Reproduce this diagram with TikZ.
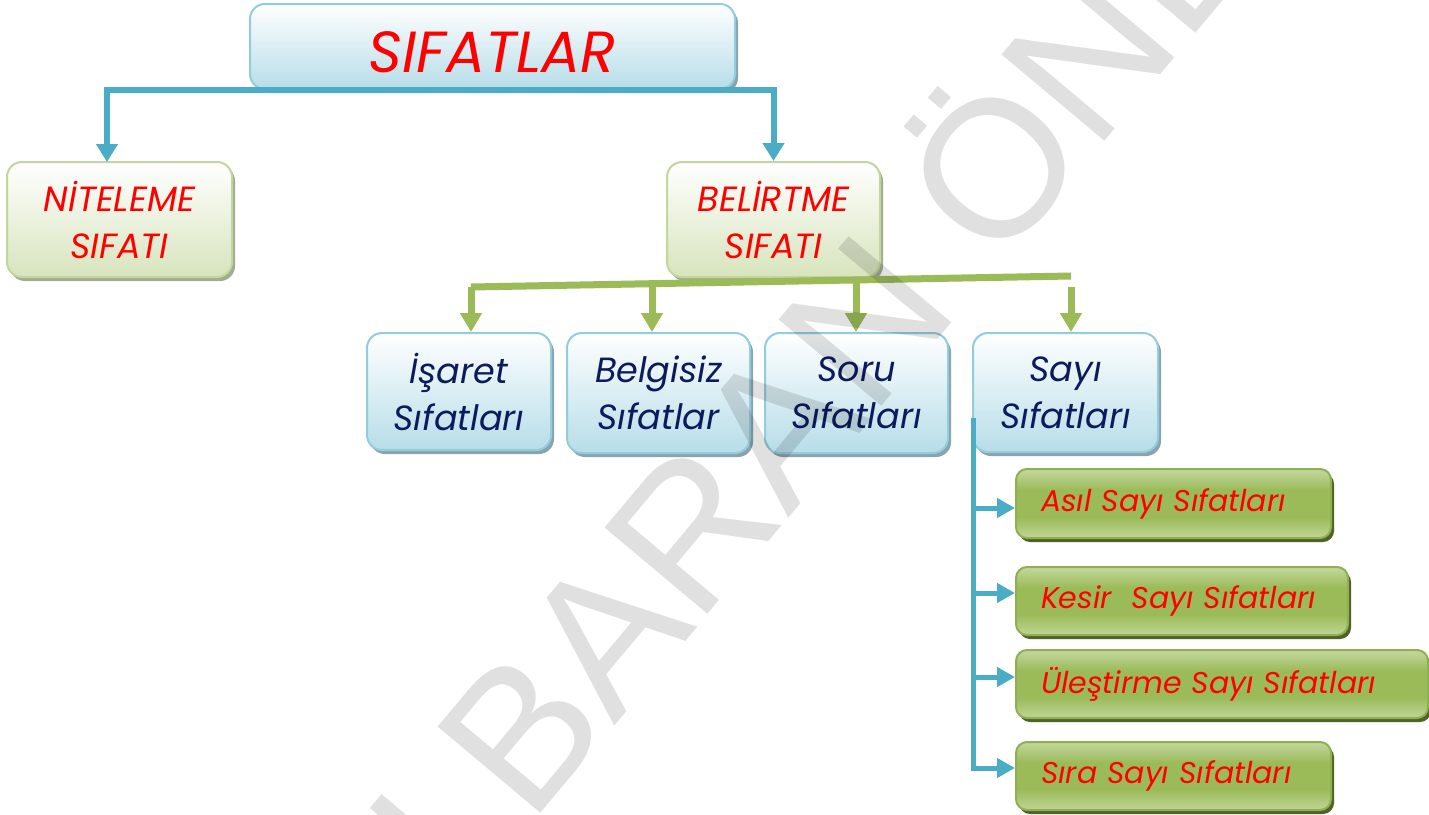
\documentclass[tikz,border=0pt]{standalone}
\usepackage{fontspec}
\usepackage{graphicx}
\setmainfont{Poppins}
\newfontfamily\wmfont{Liberation Sans}
\usetikzlibrary{arrows.meta,shadows,calc}
\definecolor{bconn}{HTML}{4BACC6}
\definecolor{gconn}{HTML}{9BBB59}
\definecolor{bborder}{HTML}{92CDDC}
\definecolor{bfill}{HTML}{B7DDE8}
\definecolor{lgborder}{HTML}{C3D69B}
\definecolor{lgfill}{HTML}{D7E4BD}
\definecolor{dgtop}{HTML}{C4D89E}
\definecolor{dgmid}{HTML}{9BBB59}
\definecolor{dgbot}{HTML}{C0D596}
\definecolor{dgborder}{HTML}{8FB050}
\definecolor{dgshadow}{HTML}{4F6228}
\definecolor{bshadow}{HTML}{8AA3AE}
\definecolor{gshadow}{HTML}{A3AB93}
\definecolor{navy}{HTML}{0D1B5E}
\definecolor{wred}{HTML}{FF0000}
\pgfdeclareverticalshading{dgshade}{100bp}{color(0bp)=(dgbot); color(25bp)=(dgbot); color(40bp)=(dgmid); color(60bp)=(dgmid); color(75bp)=(dgtop); color(100bp)=(dgtop)}
\tikzset{
  sbox/.style={rounded corners=15pt, line width=2pt, inner sep=0pt, align=center},
  bluebox/.style={sbox, draw=bborder, top color=white, bottom color=bfill,
    drop shadow={shadow xshift=3pt, shadow yshift=-4pt, fill=bshadow, opacity=1}},
  lgbox/.style={sbox, draw=lgborder, top color=white, bottom color=lgfill,
    drop shadow={shadow xshift=3pt, shadow yshift=-4pt, fill=gshadow, opacity=1}},
  dgbox/.style={sbox, rounded corners=11pt, draw=dgborder, shade, shading=dgshade,
    drop shadow={shadow xshift=3pt, shadow yshift=-4pt, fill=dgshadow, opacity=1},
    align=left, inner xsep=25pt, text=wred, font=\fontsize{30}{34}\selectfont\itshape},
  bline/.style={draw=bconn, line width=6pt},
  barrow/.style={bline, -{Triangle[width=21pt,length=18pt]}},
  sline/.style={draw=bconn, line width=5pt, -{Triangle[width=19pt,length=18pt]}},
  garrow/.style={draw=gconn, line width=7pt, -{Triangle[width=21pt,length=19pt]}},
  headtxt/.style={text=wred, font=\fontsize{35}{47}\selectfont\itshape},
  subtxt/.style={text=navy, font=\fontsize{35}{47}\selectfont\itshape},
}
\begin{document}
\begin{tikzpicture}[x=1pt,y=-1pt]
\useasboundingbox[fill=white] (0,0) rectangle (1429,814);

% top
\node[bluebox, minimum width=485pt, minimum height=85pt, text=wred,
  font=\fontsize{58}{60}\selectfont\itshape] (sifat) at (492.5,46.5) {\raisebox{-6pt}[\height][\depth]{SIFATLAR}};

\node[lgbox, headtxt, minimum width=225pt, minimum height=115pt] (nitel) at (119.5,219.5) {NİTELEME\\SIFATI};
\node[lgbox, headtxt, minimum width=213pt, minimum height=115pt] (belirt) at (773.5,219.5) {BELİRTME\\SIFATI};

\coordinate (nl) at (107,162);
\draw[barrow] (sifat.south) -| (nl);
\draw[barrow] (sifat.south) -| (belirt.north);

% second row
\node[bluebox, subtxt, minimum width=184pt, minimum height=117pt] (isaret) at (459,391.5) {İşaret\\Sıfatları};
\node[bluebox, subtxt, minimum width=183pt, minimum height=120pt] (belgisiz) at (658.5,393) {Belgisiz\\Sıfatlar};
\node[bluebox, subtxt, minimum width=183pt, minimum height=120pt] (soru) at (856.5,393) {Soru\\Sıfatları};
\node[bluebox, subtxt, minimum width=185pt, minimum height=119pt] (sayi) at (1065.5,392.5) {Sayı\\Sıfatları};

% green connectors
\coordinate (gl) at (471,287);
\coordinate (gr) at (1071,276);
\coordinate (d2) at (652,283.5);
\coordinate (d3) at (856,280);
\coordinate (d4) at (1071,287);
\draw[draw=gconn, line width=7pt] (gl) -- (gr);
\draw[garrow] (gl) -- (gl |- isaret.north);
\draw[garrow] (d2) -- (d2 |- belgisiz.north);
\draw[garrow] (d3) -- (d3 |- soru.north);
\draw[garrow] (d4) -- (d4 |- sayi.north);

% number adjectives
\node[dgbox, text width=265pt, minimum height=69pt] (asil) at (1173.5,503.5) {Asıl Sayı Sıfatları};
\node[dgbox, text width=282pt, minimum height=68pt] (kesir) at (1182,601) {Kesir~ Sayı Sıfatları};
\node[dgbox, text width=362pt, minimum height=68pt] (ules) at (1222,684) {Üleştirme Sayı Sıfatları};
\node[dgbox, text width=265pt, minimum height=68pt] (sira) at (1173.5,776) {Sıra Sayı Sıfatları};

\coordinate (sv) at (973.5,418);
\draw[sline] (sv) |- ([yshift=-4.5pt]asil.west);
\draw[sline] (sv) |- ([yshift=8pt]kesir.west);
\draw[sline] (sv) |- ([yshift=7pt]ules.west);
\draw[sline] (sv) |- ([yshift=8pt]sira.west);

% watermark
\begin{scope}
\clip (0,0) rectangle (1429,814);
\node[rotate=50, anchor=base west, inner sep=0pt, text=black, text opacity=0.12] (wm) at (460.9,908.7)
  {\wmfont\fontsize{195}{195}\selectfont I BARAN ÖNER};
\end{scope}
\end{tikzpicture}
\end{document}
